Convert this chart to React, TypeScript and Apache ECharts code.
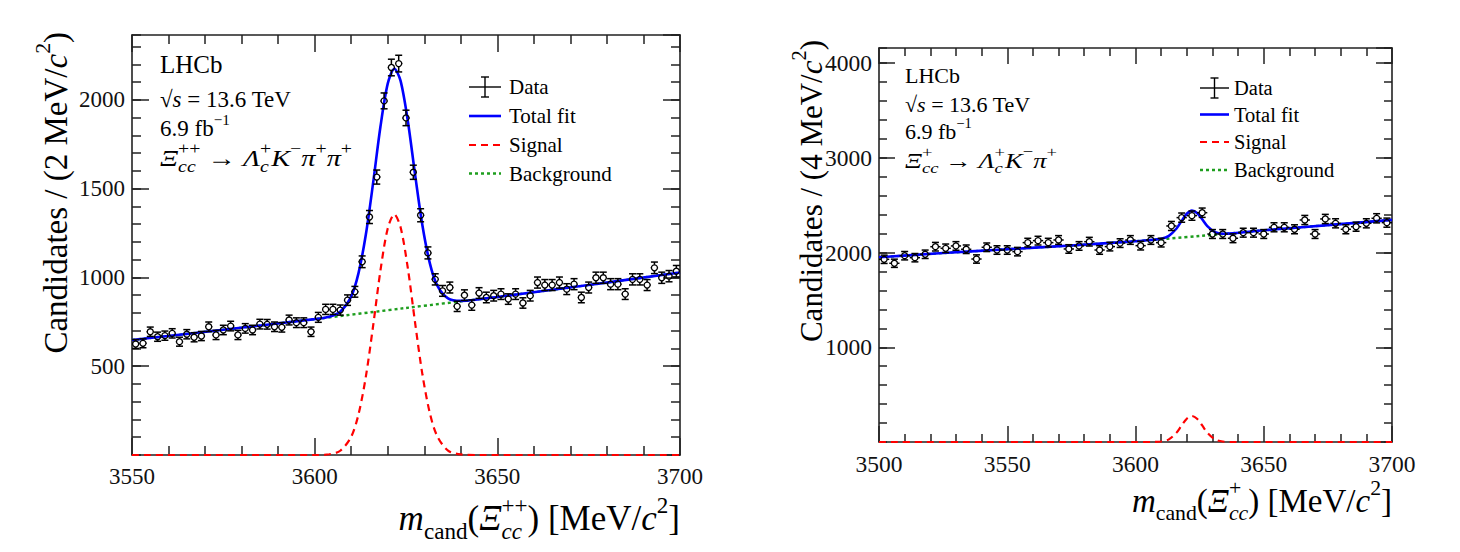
import React, { useEffect, useRef } from "react";
import * as echarts from "echarts";

const FONT = "Liberation Serif, serif";

// ---------- Left panel: Xi_cc^{++} -> Lambda_c^+ K^- pi^+ pi^+ (2 MeV bins) ----------
const leftMass = [
  3551, 3553, 3555, 3557, 3559, 3561, 3563, 3565, 3567, 3569,
  3571, 3573, 3575, 3577, 3579, 3581, 3583, 3585, 3587, 3589,
  3591, 3593, 3595, 3597, 3599, 3601, 3603, 3605, 3607, 3609,
  3611, 3613, 3615, 3617, 3619, 3621, 3623, 3625, 3627, 3629,
  3631, 3633, 3635, 3637, 3639, 3641, 3643, 3645, 3647, 3649,
  3651, 3653, 3655, 3657, 3659, 3661, 3663, 3665, 3667, 3669,
  3671, 3673, 3675, 3677, 3679, 3681, 3683, 3685, 3687, 3689,
  3691, 3693, 3695, 3697, 3699,
];
const leftCounts = [
  625, 629, 694, 666, 672, 685, 638, 680, 663, 670,
  722, 676, 704, 726, 676, 713, 704, 737, 736, 722,
  719, 760, 745, 745, 694, 775, 820, 820, 816, 872,
  919, 1088, 1340, 1565, 1994, 2182, 2204, 1898, 1592, 1350,
  1138, 989, 924, 943, 837, 900, 844, 912, 887, 897,
  906, 878, 906, 856, 897, 971, 957, 957, 971, 934,
  962, 887, 943, 998, 998, 962, 962, 906, 989, 989,
  957, 1054, 998, 1007, 1035,
];
const leftFitMass = [
  3550, 3575, 3600, 3604, 3607, 3610, 3612, 3614, 3616, 3618, 3620, 3621.8,
  3623.5, 3625.5, 3627.5, 3629.5, 3631.5, 3633.5, 3636.5, 3640, 3645, 3650, 3675, 3700,
];
const leftFitTotal = [
  648, 705, 765, 779, 807, 893, 1024, 1240, 1532, 1848, 2091, 2175,
  2108, 1881, 1577, 1292, 1082, 957, 882, 868, 877, 890, 957, 1028,
];
const leftSigMass = [
  3550, 3600, 3604, 3607, 3610, 3612, 3614, 3616, 3618, 3620, 3621.8,
  3623.5, 3625.5, 3627.5, 3629.5, 3631.5, 3633.5, 3636.5, 3640, 3645, 3700,
];
const leftSig = [
  0, 0, 4, 24, 103, 229, 440, 727, 1038, 1276, 1355,
  1284, 1052, 743, 453, 238, 108, 25, 3, 0, 0,
];
const leftBkgMass = [3550, 3575, 3600, 3625, 3650, 3675, 3700];
const leftBkg = [648, 705, 765, 828, 890, 957, 1028];
const leftXTicks = [3550, 3600, 3650, 3700];
const leftYTicks = [500, 1000, 1500, 2000];

// ---------- Right panel: Xi_cc^{+} -> Lambda_c^+ K^- pi^+ (4 MeV bins) ----------
const rightMass = [
  3502, 3506, 3510, 3514, 3518, 3522, 3526, 3530, 3534, 3538,
  3542, 3546, 3550, 3554, 3558, 3562, 3566, 3570, 3574, 3578,
  3582, 3586, 3590, 3594, 3598, 3602, 3606, 3610, 3614, 3618,
  3622, 3626, 3630, 3634, 3638, 3642, 3646, 3650, 3654, 3658,
  3662, 3666, 3670, 3674, 3678, 3682, 3686, 3690, 3694, 3698,
];
const rightCounts = [
  1929, 1887, 1967, 1946, 1982, 2062, 2045, 2070, 2035, 1932,
  2056, 2027, 2027, 2010, 2105, 2126, 2105, 2133, 2038, 2070,
  2115, 2027, 2063, 2100, 2133, 2073, 2133, 2105, 2281, 2369,
  2390, 2421, 2196, 2196, 2151, 2210, 2210, 2196, 2267, 2267,
  2246, 2344, 2196, 2355, 2309, 2246, 2273, 2309, 2362, 2316,
];
const rightFitMass = [
  3500, 3525, 3550, 3575, 3600, 3606, 3610, 3613, 3616, 3618, 3620, 3622,
  3624, 3626, 3628, 3631, 3634, 3638, 3650, 3675, 3700,
];
const rightFitTotal = [
  1950, 1995, 2035, 2075, 2120, 2133, 2147, 2177, 2254, 2335, 2410, 2443,
  2419, 2352, 2280, 2216, 2199, 2203, 2235, 2290, 2345,
];
const rightSigMass = [
  3500, 3600, 3606, 3610, 3613, 3616, 3618, 3620, 3622, 3624, 3626, 3628, 3631, 3634, 3638, 3700,
];
const rightSig = [0, 0, 0, 5, 28, 99, 175, 246, 275, 246, 175, 99, 28, 5, 0, 0];
const rightBkgMass = [3500, 3525, 3550, 3575, 3600, 3625, 3650, 3675, 3700];
const rightBkg = [1950, 1995, 2035, 2075, 2120, 2175, 2235, 2290, 2345];
const rightXTicks = [3500, 3550, 3600, 3650, 3700];
const rightYTicks = [1000, 2000, 3000, 4000];

// ---------- helpers ----------
// t: text, it: italic, k: sup/sub, st: stacked under the previous segment
type Seg = { t: string; it?: boolean; k?: "sup" | "sub"; st?: boolean };

let measureCtx: CanvasRenderingContext2D | null = null;
function textWidth(t: string, size: number, italic: boolean) {
  if (!measureCtx) measureCtx = document.createElement("canvas").getContext("2d");
  if (!measureCtx) return t.length * size * 0.5;
  measureCtx.font = `${italic ? "italic " : ""}${size}px "Liberation Serif", serif`;
  return measureCtx.measureText(t).width;
}

function layoutMath(segs: Seg[], size: number, subScale: number) {
  let cursor = 0;
  let prevStart = 0;
  const placed = segs.map((s) => {
    const fs = s.k ? size * subScale : size;
    const w = textWidth(s.t, fs, !!s.it);
    let px: number;
    if (s.st) {
      px = prevStart;
      cursor = Math.max(cursor, prevStart + w);
    } else {
      px = cursor;
      prevStart = cursor;
      cursor += w;
    }
    const dy = s.k === "sup" ? -0.38 * size : s.k === "sub" ? 0.36 * size : 0;
    return { s, fs, px, dy };
  });
  return { placed, width: cursor };
}

function mathText(segs: Seg[], x: number, y: number, size: number, anchor: "left" | "right" = "left", subScale = 0.66) {
  const { placed, width } = layoutMath(segs, size, subScale);
  const x0 = anchor === "right" ? x - width : x;
  return placed.map((p) => ({
    type: "text",
    x: x0 + p.px,
    y: y + p.dy,
    silent: true,
    style: {
      text: p.s.t,
      fontSize: p.fs,
      fontFamily: FONT,
      fontStyle: p.s.it ? "italic" : "normal",
      fill: "#000",
      align: "left",
      verticalAlign: "middle",
    },
  }));
}

// formula stretched horizontally to a target width (wide ROOT glyphs)
function stretchedMath(segs: Seg[], x: number, y: number, size: number, targetW: number, subScale = 0.7) {
  const { width } = layoutMath(segs, size, subScale);
  return {
    type: "group",
    x,
    y,
    scaleX: targetW / width,
    children: mathText(segs, 0, 0, size, "left", subScale),
  };
}

const AX = "#222";

function xAxes(grid: number, min: number, max: number, ticks: number[], fs: number, major: number, minor: number) {
  const base = {
    gridIndex: grid,
    type: "value",
    min,
    max,
    interval: 50,
    axisLine: { show: true, onZero: false, lineStyle: { color: AX, width: 1.6 } },
    axisTick: { show: true, inside: true, length: major, lineStyle: { color: AX, width: 1.5 } },
    minorTick: { show: true, splitNumber: 5, length: minor, lineStyle: { color: AX, width: 1.5 } },
    splitLine: { show: false },
    minorSplitLine: { show: false },
  };
  return [
    {
      ...base,
      position: "bottom",
      axisLabel: {
        show: true,
        margin: 10,
        fontSize: fs,
        fontFamily: FONT,
        color: "#111",
        showMinLabel: true,
        showMaxLabel: true,
        formatter: (v: number) => (ticks.includes(v) ? String(v) : ""),
      },
    },
    { ...base, position: "top", axisLabel: { show: false } },
  ];
}

function yAxes(grid: number, max: number, majorStep: number, minorStep: number, ticks: number[], fs: number, major: number, minor: number) {
  const common = {
    gridIndex: grid,
    type: "value",
    min: 0,
    max,
    splitLine: { show: false },
  };
  const mk = (pos: string, labels: boolean) => [
    {
      ...common,
      position: pos,
      interval: majorStep,
      axisLine: { show: true, onZero: false, lineStyle: { color: AX, width: 1.6 } },
      axisTick: { show: true, inside: true, length: major, lineStyle: { color: AX, width: 1.5 } },
      axisLabel: labels
        ? {
            show: true,
            margin: 7,
            fontSize: fs,
            fontFamily: FONT,
            color: "#111",
            showMinLabel: false,
            showMaxLabel: false,
            formatter: (v: number) => (ticks.includes(v) ? String(v) : ""),
          }
        : { show: false },
    },
    {
      ...common,
      position: pos,
      interval: minorStep,
      axisLine: { show: false },
      axisTick: { show: true, inside: true, length: minor, lineStyle: { color: AX, width: 1.5 } },
      axisLabel: { show: false },
    },
  ];
  return [...mk("left", true), ...mk("right", false)];
}

function dataSeries(xi: number, yi: number, mass: number[], counts: number[], halfWidth: number) {
  return {
    type: "custom",
    xAxisIndex: xi,
    yAxisIndex: yi,
    z: 6,
    silent: true,
    clip: false,
    encode: { x: 0, y: 1 },
    data: mass.map((m, i) => [m, counts[i], Math.sqrt(counts[i]), halfWidth]),
    renderItem: (params: any, api: any) => {
      const x = api.value(0);
      const y = api.value(1);
      const e = api.value(2);
      const hw = api.value(3);
      const c = api.coord([x, y]);
      const top = api.coord([x, y + e]);
      const bot = api.coord([x, y - e]);
      const l = api.coord([x - hw, y]);
      const r = api.coord([x + hw, y]);
      const rad = 3;
      const cap = 3.5;
      const st = { stroke: "#000", lineWidth: 1.5 };
      return {
        type: "group",
        children: [
          { type: "line", shape: { x1: c[0], y1: top[1], x2: c[0], y2: c[1] - rad }, style: st },
          { type: "line", shape: { x1: c[0], y1: c[1] + rad, x2: c[0], y2: bot[1] }, style: st },
          { type: "line", shape: { x1: c[0] - cap, y1: top[1], x2: c[0] + cap, y2: top[1] }, style: st },
          { type: "line", shape: { x1: c[0] - cap, y1: bot[1], x2: c[0] + cap, y2: bot[1] }, style: st },
          { type: "line", shape: { x1: l[0], y1: c[1], x2: c[0] - rad, y2: c[1] }, style: st },
          { type: "line", shape: { x1: c[0] + rad, y1: c[1], x2: r[0], y2: c[1] }, style: st },
          { type: "circle", shape: { cx: c[0], cy: c[1], r: rad }, style: { fill: "none", stroke: "#000", lineWidth: 1.3 } },
        ],
      };
    },
  };
}

function curve(xi: number, yi: number, xs: number[], ys: number[], color: string, width: number, dash: any, z: number, smooth: number) {
  return {
    type: "line",
    xAxisIndex: xi,
    yAxisIndex: yi,
    data: xs.map((m, i) => [m, ys[i]]),
    symbol: "none",
    showSymbol: false,
    smooth,
    clip: false,
    silent: true,
    z,
    lineStyle: { color, width, type: dash },
  };
}

function legend(x0: number, x1: number, tx: number, ys: number[], fs: number) {
  const xm = (x0 + x1) / 2;
  const els: any[] = [];
  const st = { stroke: "#000", lineWidth: 1.4 };
  els.push({ type: "line", shape: { x1: x0, y1: ys[0], x2: x1, y2: ys[0] }, style: st });
  els.push({ type: "line", shape: { x1: xm, y1: ys[0] - 10, x2: xm, y2: ys[0] + 10 }, style: st });
  els.push({ type: "line", shape: { x1: xm - 4, y1: ys[0] - 10, x2: xm + 4, y2: ys[0] - 10 }, style: st });
  els.push({ type: "line", shape: { x1: xm - 4, y1: ys[0] + 10, x2: xm + 4, y2: ys[0] + 10 }, style: st });
  els.push({ type: "line", shape: { x1: x0, y1: ys[1], x2: x1, y2: ys[1] }, style: { stroke: "#0000ff", lineWidth: 2.6 } });
  els.push({ type: "line", shape: { x1: x0, y1: ys[2], x2: x1, y2: ys[2] }, style: { stroke: "#ff0000", lineWidth: 2.2, lineDash: [7, 5] } });
  els.push({ type: "line", shape: { x1: x0, y1: ys[3], x2: x1, y2: ys[3] }, style: { stroke: "#1e9e1e", lineWidth: 2.4, lineDash: [3, 3] } });
  const labels = ["Data", "Total fit", "Signal", "Background"];
  labels.forEach((t, i) =>
    els.push({
      type: "text",
      x: tx,
      y: ys[i],
      silent: true,
      style: { text: t, fontSize: fs, fontFamily: FONT, fill: "#000", align: "left", verticalAlign: "middle" },
    })
  );
  return els;
}

function buildOption() {
  const graphic: any[] = [];

  // Left annotations
  graphic.push(...mathText([{ t: "LHCb" }], 160, 64, 25));
  graphic.push(...mathText([{ t: "√" }, { t: "s", it: true }, { t: " = 13.6 TeV" }], 160, 99, 23));
  graphic.push(...mathText([{ t: "6.9 fb" }, { t: "−1", k: "sup" }], 160, 128, 23));
  graphic.push(
    stretchedMath(
      [
        { t: "Ξ", it: true }, { t: "++", k: "sup" }, { t: "cc", it: true, k: "sub", st: true },
        { t: " → " },
        { t: "Λ", it: true }, { t: "+", k: "sup" }, { t: "c", it: true, k: "sub", st: true },
        { t: "K", it: true }, { t: "−", k: "sup" },
        { t: "π", it: true }, { t: "+", k: "sup" },
        { t: "π", it: true }, { t: "+", k: "sup" },
      ],
      160, 158, 24, 192
    )
  );
  graphic.push(...legend(469, 501, 509, [87, 116, 145, 173.5], 21));

  // Right annotations
  graphic.push(...mathText([{ t: "LHCb" }], 905, 75, 22));
  graphic.push(...mathText([{ t: "√" }, { t: "s", it: true }, { t: " = 13.6 TeV" }], 905, 104, 22));
  graphic.push(...mathText([{ t: "6.9 fb" }, { t: "−1", k: "sup" }], 905, 131, 22));
  graphic.push(
    stretchedMath(
      [
        { t: "Ξ", it: true }, { t: "+", k: "sup" }, { t: "cc", it: true, k: "sub", st: true },
        { t: " → " },
        { t: "Λ", it: true }, { t: "+", k: "sup" }, { t: "c", it: true, k: "sub", st: true },
        { t: "K", it: true }, { t: "−", k: "sup" },
        { t: "π", it: true }, { t: "+", k: "sup" },
      ],
      905, 160, 22, 152
    )
  );
  graphic.push(...legend(1200, 1229, 1234, [88, 114.5, 142, 170], 20.5));

  // Axis titles
  graphic.push(
    ...mathText(
      [
        { t: "m", it: true }, { t: "cand", k: "sub" }, { t: "(" },
        { t: "Ξ", it: true }, { t: "++", k: "sup" }, { t: "cc", it: true, k: "sub", st: true },
        { t: ") [MeV/" }, { t: "c", it: true }, { t: "2", k: "sup" }, { t: "]" },
      ],
      680, 518, 35, "right"
    )
  );
  graphic.push(
    ...mathText(
      [
        { t: "m", it: true }, { t: "cand", k: "sub" }, { t: "(" },
        { t: "Ξ", it: true }, { t: "+", k: "sup" }, { t: "cc", it: true, k: "sub", st: true },
        { t: ") [MeV/" }, { t: "c", it: true }, { t: "2", k: "sup" }, { t: "]" },
      ],
      1392, 501, 33, "right"
    )
  );
  graphic.push({
    type: "group",
    x: 56,
    y: 32,
    rotation: Math.PI / 2,
    children: mathText(
      [{ t: "Candidates / (2 MeV/" }, { t: "c", it: true }, { t: "2", k: "sup" }, { t: ")" }],
      0, 0, 33, "right"
    ),
  });
  graphic.push({
    type: "group",
    x: 811,
    y: 40,
    rotation: Math.PI / 2,
    children: mathText(
      [{ t: "Candidates / (4 MeV/" }, { t: "c", it: true }, { t: "2", k: "sup" }, { t: ")" }],
      0, 0, 31, "right"
    ),
  });

  return {
    animation: false,
    backgroundColor: "#fff",
    grid: [
      { left: 132, top: 35, width: 548, height: 420, containLabel: false },
      { left: 879, top: 48, width: 513, height: 394, containLabel: false },
    ],
    xAxis: [
      ...xAxes(0, 3550, 3700, leftXTicks, 23, 17, 9),
      ...xAxes(1, 3500, 3700, rightXTicks, 23.5, 16, 8),
    ],
    yAxis: [
      ...yAxes(0, 2365, 500, 100, leftYTicks, 23, 17, 9),
      ...yAxes(1, 4160, 1000, 200, rightYTicks, 23.5, 16, 8),
    ],
    series: [
      curve(0, 0, leftBkgMass, leftBkg, "#1e9e1e", 2.4, [3, 3], 2, 0.3),
      curve(0, 0, leftSigMass, leftSig, "#ff0000", 2.2, [7, 5], 3, 0.3),
      curve(0, 0, leftFitMass, leftFitTotal, "#0000ff", 2.6, "solid", 4, 0.3),
      dataSeries(0, 0, leftMass, leftCounts, 1),
      curve(2, 4, rightBkgMass, rightBkg, "#1e9e1e", 2.4, [3, 3], 2, 0.3),
      curve(2, 4, rightSigMass, rightSig, "#ff0000", 2.2, [7, 5], 3, 0.3),
      curve(2, 4, rightFitMass, rightFitTotal, "#0000ff", 2.6, "solid", 4, 0.3),
      dataSeries(2, 4, rightMass, rightCounts, 2),
    ],
    graphic,
  };
}

export default function App() {
  const ref = useRef<HTMLDivElement>(null);
  useEffect(() => {
    if (!ref.current) return;
    const chart = echarts.init(ref.current, undefined, { renderer: "svg" });
    chart.setOption(buildOption() as any);
    return () => chart.dispose();
  }, []);
  return (
    <div
      ref={ref}
      style={{ position: "fixed", left: 0, top: 0, width: 1460, height: 552, background: "#fff" }}
    />
  );
}
